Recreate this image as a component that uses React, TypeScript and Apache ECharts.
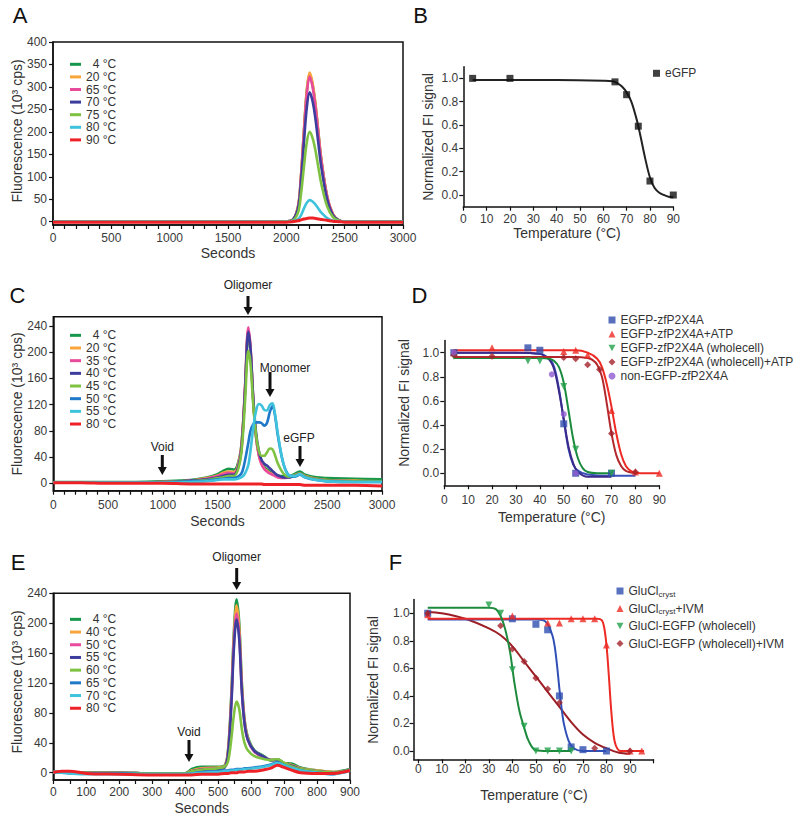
import { useEffect, useRef } from 'react';
import * as echarts from 'echarts';

const FONT = '"Liberation Sans", Arial, Helvetica, sans-serif';
const GREEN = '#16974a', ORANGE = '#f8a53e', PINK = '#e84a9c', INDIGO = '#3d3d9e', LGREEN = '#7fc241', BLUE = '#1f78c8', CYAN = '#3fc3dc', RED = '#ee2226';

// ---------- Panel A (eGFP FSEC) ----------
const A_TEMPS = ['4 °C', '20 °C', '65 °C', '70 °C', '75 °C', '80 °C', '90 °C'];
const A_X = [0, 500, 1000, 1500, 1800, 2000, 2050, 2100, 2125, 2150, 2175, 2200, 2225, 2250, 2275, 2300, 2350, 2400, 2450, 2500, 3000];
const A_4 = [0, 0, 0, 0, 0, 1, 3, 33, 98, 197, 289, 328, 305, 259, 197, 138, 56, 16, 3, 0, 0];
const A_20 = [0, 0, 0, 0, 0, 1, 3, 34, 100, 200, 292, 332, 309, 262, 199, 139, 56, 17, 3, 0, 0];
const A_65 = [0, 0, 0, 0, 0, 1, 3, 32, 97, 193, 283, 323, 300, 255, 194, 136, 55, 16, 3, 0, 0];
const A_70 = [0, 0, 0, 0, 0, 1, 3, 29, 86, 173, 253, 288, 268, 228, 173, 121, 49, 14, 3, 0, 0];
const A_75 = [0, 0, 0, 0, 0, 1, 2, 20, 60, 120, 176, 200, 186, 158, 120, 84, 34, 10, 2, 0, 0];
const A_80 = [0, 0, 0, 0, 0, 0, 1, 5, 14, 29, 42, 48, 45, 38, 29, 20, 8, 2, 1, 0, 0];
const A_90 = [-1, -1, -1, -1, -1, -1, 0, 2, 4, 6, 7, 8, 8, 7, 6, 5, 3, 1, 0, -1, -1];
const A_SERIES = [A_4, A_20, A_65, A_70, A_75, A_80, A_90];
const A_COLORS = [GREEN, ORANGE, PINK, INDIGO, LGREEN, CYAN, RED];

// ---------- Panel B ----------
const B_PTS_X = [4, 20, 65, 70, 75, 80, 90];
const B_PTS_Y = [1.0, 1.0, 0.97, 0.86, 0.59, 0.12, 0.0];
const B_FIT_X = [4, 20, 40, 60, 64, 66, 68, 70, 72, 74, 75, 76, 78, 80, 82, 84, 86, 88, 90];
const B_FIT_Y = [0.985, 0.985, 0.985, 0.98, 0.975, 0.96, 0.93, 0.88, 0.8, 0.67, 0.59, 0.5, 0.31, 0.15, 0.06, 0.02, 0.0, -0.015, -0.02];

// ---------- Panel C (zfP2X4A FSEC) ----------
const C_TEMPS = ['4 °C', '20 °C', '35 °C', '40 °C', '45 °C', '50 °C', '55 °C', '80 °C'];
const C_X = [0, 250, 500, 750, 1000, 1250, 1400, 1500, 1550, 1600, 1650, 1700, 1725, 1750, 1780, 1800, 1825, 1850, 1875, 1900, 1925, 1950, 1975, 2000, 2025, 2050, 2100, 2150, 2200, 2250, 2300, 2400, 2500, 2750, 3000];
const C_4 = [2, 2, 2, 2, 3, 5, 9, 14, 19, 22, 21, 40, 75, 140, 228, 200, 125, 72, 45, 32, 25, 21, 18, 16, 14, 12, 11, 11, 14, 18, 13, 9, 8, 7, 6];
const C_20 = [1, 1, 1, 1, 2, 4, 8, 12, 16, 18, 17, 38, 74, 145, 234, 205, 127, 72, 44, 30, 23, 19, 16, 14, 12, 10, 9, 10, 12, 15, 11, 7, 5, 4, 3];
const C_35 = [1, 1, 1, 1, 2, 4, 7, 11, 14, 16, 15, 36, 72, 148, 238, 208, 128, 72, 43, 29, 22, 18, 15, 13, 11, 9, 8, 9, 11, 14, 10, 6, 4, 3, 3];
const C_40 = [1, 1, 1, 1, 2, 4, 6, 9, 11, 13, 13, 33, 68, 142, 231, 205, 130, 78, 50, 36, 30, 27, 23, 19, 15, 12, 9, 9, 11, 14, 10, 6, 4, 3, 3];
const C_45 = [1, 1, 1, 1, 2, 3, 5, 8, 9, 11, 11, 30, 62, 125, 202, 182, 120, 75, 50, 42, 42, 47, 53, 52, 42, 30, 15, 10, 11, 14, 10, 6, 4, 3, 3];
const C_50 = [1, 1, 1, 1, 1, 3, 4, 6, 7, 8, 8, 12, 18, 35, 62, 80, 90, 93, 93, 92, 88, 92, 108, 118, 102, 72, 30, 12, 10, 13, 9, 5, 3, 2, 2];
const C_55 = [1, 1, 1, 1, 1, 2, 3, 5, 6, 6, 6, 8, 10, 15, 28, 50, 85, 110, 121, 119, 112, 111, 119, 122, 104, 75, 30, 12, 11, 14, 9, 5, 3, 2, 2];
const C_80 = [1, 1, 0, 0, 0, -1, -1, -1, -1, -1, -1, -1, -1, -1, -1, -1, -1, -1, -1, -1, -2, -2, -2, -2, -2, -2, -2, -2, -2, -2, -3, -3, -3, -3, -4];
const C_SERIES = [C_4, C_20, C_35, C_40, C_45, C_50, C_55, C_80];
const C_COLORS = [GREEN, ORANGE, PINK, INDIGO, LGREEN, BLUE, CYAN, RED];

// ---------- Panel D ----------
const D_NAMES = ['EGFP-zfP2X4A', 'EGFP-zfP2X4A+ATP', 'EGFP-zfP2X4A (wholecell)', 'EGFP-zfP2X4A (wholecell)+ATP', 'non-EGFP-zfP2X4A'];
const D_BLUE_X = [4, 35, 40, 50, 55, 70];
const D_BLUE_Y = [1.0, 1.04, 1.02, 0.41, 0.0, 0.0];
const D_RED_X = [4, 20, 50, 55, 60, 70, 80, 90];
const D_RED_Y = [1.0, 1.04, 1.01, 1.02, 0.98, 0.52, 0.01, 0.0];
const D_GREEN_X = [4, 35, 40, 50, 55, 70];
const D_GREEN_Y = [0.97, 0.93, 0.93, 0.72, 0.2, 0.0];
const D_DRED_X = [4, 20, 50, 55, 60, 65, 70, 80];
const D_DRED_Y = [0.98, 0.97, 0.96, 0.95, 0.9, 0.86, 0.33, 0.01];
const D_PURPLE_X = [4, 45, 50, 55];
const D_PURPLE_Y = [1.0, 0.82, 0.49, 0.0];
const D_BLUE_FX = [4, 30, 40, 44, 46, 48, 50, 52, 54, 56, 60, 70, 80];
const D_BLUE_FY = [1.0, 1.0, 0.99, 0.95, 0.88, 0.7, 0.44, 0.2, 0.07, 0.02, -0.01, -0.02, -0.02];
const D_PURPLE_FX = [4, 30, 40, 44, 46, 48, 50, 52, 54, 56, 60, 70];
const D_PURPLE_FY = [1.0, 1.0, 0.99, 0.94, 0.86, 0.68, 0.45, 0.22, 0.08, 0.01, -0.03, -0.03];
const D_GREEN_FX = [4, 40, 44, 46, 48, 50, 52, 54, 56, 58, 60, 64, 70];
const D_GREEN_FY = [0.955, 0.955, 0.95, 0.93, 0.88, 0.75, 0.52, 0.28, 0.12, 0.04, 0.01, 0.0, 0.0];
const D_RED_FX = [4, 55, 60, 64, 66, 68, 70, 72, 74, 76, 78, 80, 85, 90];
const D_RED_FY = [1.02, 1.02, 1.0, 0.95, 0.88, 0.74, 0.55, 0.33, 0.16, 0.06, 0.02, 0.005, 0.0, 0.0];
const D_DRED_FX = [4, 55, 60, 62, 64, 66, 68, 70, 72, 74, 76, 80];
const D_DRED_FY = [0.965, 0.965, 0.955, 0.94, 0.9, 0.8, 0.58, 0.33, 0.15, 0.06, 0.02, 0.0];

// ---------- Panel E (GluCl FSEC) ----------
const E_TEMPS = ['4 °C', '40 °C', '50 °C', '55 °C', '60 °C', '65 °C', '70 °C', '80 °C'];
const E_X = [0, 25, 50, 100, 200, 300, 400, 420, 450, 500, 520, 530, 540, 548, 556, 564, 572, 580, 590, 610, 640, 660, 680, 700, 725, 750, 800, 850, 880, 900];
const E_4 = [1, 1, 0, 0, 0, -1, -1, 5, 8, 8, 10, 30, 105, 190, 232, 200, 120, 72, 48, 30, 22, 16, 18, 13, 12, 7, 3, 1, 3, 5];
const E_40 = [1, 1, 0, 0, 0, -1, -1, 3, 6, 7, 9, 28, 100, 183, 224, 193, 116, 70, 46, 29, 21, 17, 17, 13, 10, 6, 3, 1, 2, 4];
const E_50 = [1, 2, 0, 0, 0, -1, -1, 2, 5, 6, 8, 26, 95, 175, 213, 184, 111, 67, 44, 28, 20, 17, 17, 12, 9, 5, 2, 0, 2, 4];
const E_55 = [1, 1, 0, 0, 0, -1, -1, 2, 4, 5, 7, 24, 90, 168, 205, 178, 108, 66, 44, 29, 21, 17, 17, 12, 9, 5, 2, 0, 2, 4];
const E_60 = [1, 1, 0, 0, 0, -1, -1, 2, 4, 6, 8, 15, 45, 78, 95, 85, 58, 40, 30, 22, 18, 17, 18, 13, 8, 5, 2, 0, 2, 4];
const E_65 = [0, 0, -1, -1, -1, -2, -2, -1, 1, 2, 3, 3, 4, 4, 5, 5, 5, 6, 6, 7, 9, 11, 14, 10, 6, 3, 0, -2, 1, 3];
const E_70 = [0, 0, -1, -2, -2, -2, -2, -1, 0, 1, 2, 2, 3, 3, 4, 4, 4, 5, 5, 6, 8, 10, 13, 10, 6, 3, 0, -2, 0, 3];
const E_80 = [0, 2, 2, -1, -2, -3, -3, -3, -2, -2, -1, -1, 0, 0, 0, 1, 1, 1, 2, 2, 4, 6, 10, 7, 3, 0, -1, -1, 1, 3];
const E_SERIES = [E_4, E_40, E_50, E_55, E_60, E_65, E_70, E_80];
const E_COLORS = [GREEN, ORANGE, PINK, INDIGO, LGREEN, BLUE, CYAN, RED];

// ---------- Panel F ----------
const F_NAMES = ['GluCl_cryst', 'GluCl_cryst+IVM', 'GluCl-EGFP (wholecell)', 'GluCl-EGFP (wholecell)+IVM'];
const F_BLUE_X = [4, 40, 50, 55, 60, 65, 70, 80];
const F_BLUE_Y = [1.0, 0.96, 0.92, 0.88, 0.4, 0.03, 0.01, 0.0];
const F_RED_X = [4, 40, 55, 60, 65, 70, 75, 80, 90, 95];
const F_RED_Y = [0.99, 0.98, 0.93, 0.93, 0.96, 0.96, 0.96, 0.77, 0.0, 0.0];
const F_GREEN_X = [30, 35, 40, 45, 50, 55, 60, 65];
const F_GREEN_Y = [1.06, 1.0, 0.59, 0.18, 0.0, 0.0, 0.0, 0.0];
const F_DRED_X = [4, 35, 40, 45, 50, 55, 60, 75, 90];
const F_DRED_Y = [1.0, 0.91, 0.74, 0.65, 0.53, 0.45, 0.35, 0.02, 0.0];
const F_BLUE_FX = [4, 50, 53, 55, 57, 58, 59, 60, 61, 62, 64, 66, 70, 80];
const F_BLUE_FY = [0.955, 0.955, 0.95, 0.92, 0.84, 0.76, 0.62, 0.45, 0.3, 0.19, 0.07, 0.02, 0.0, 0.0];
const F_RED_FX = [4, 76, 78, 79, 80, 81, 82, 83, 84, 86, 90, 96];
const F_RED_FY = [0.96, 0.96, 0.95, 0.9, 0.77, 0.55, 0.3, 0.12, 0.04, 0.0, 0.0, 0.0];
const F_GREEN_FX = [4, 30, 33, 35, 37, 39, 40, 41, 43, 45, 47, 50, 55, 65];
const F_GREEN_FY = [1.04, 1.04, 1.03, 0.98, 0.88, 0.72, 0.6, 0.48, 0.29, 0.17, 0.07, 0.005, 0.0, 0.0];
const F_DRED_FX = [4, 10, 20, 30, 35, 40, 45, 50, 55, 60, 65, 70, 75, 80, 85, 90];
const F_DRED_FY = [1.01, 1.0, 0.96, 0.89, 0.84, 0.76, 0.65, 0.54, 0.43, 0.32, 0.21, 0.12, 0.06, 0.02, -0.01, -0.02];

// ---------- tick positions ----------
function steps(a: number, b: number, s: number) {
  const r: number[] = [];
  for (let i = 0; a + i * s <= b + 1e-9; i++) r.push(+(a + i * s).toFixed(4));
  return r;
}

const AXIS_COLOR = '#111';
const LABEL_COLOR = '#3a3a3a';
const INV_TRI = 'path://M0,0L10,0L5,9Z';

function axis(gridIndex: number, min: number, max: number, ticks: number[], labels: number[], margin: number, fmt: (v: number) => string) {
  return {
    type: 'value', gridIndex, min, max,
    axisLine: { show: true, onZero: false, lineStyle: { color: AXIS_COLOR, width: 1.5 } },
    axisTick: { show: true, inside: false, length: 4, customValues: ticks, lineStyle: { color: AXIS_COLOR, width: 1.2 } },
    axisLabel: { show: true, customValues: labels, margin, color: LABEL_COLOR, fontSize: 12, fontFamily: FONT, formatter: fmt },
    splitLine: { show: false },
  };
}
const fInt = (v: number) => String(Math.round(v));
const fOne = (v: number) => v.toFixed(1);

function line(name: string, xs: number[], ys: number[], color: string, idx: number, width: number, z = 2) {
  return {
    type: 'line', name, xAxisIndex: idx, yAxisIndex: idx,
    data: xs.map((x, i) => [x, ys[i]]),
    smooth: 0.35, symbol: 'none', showSymbol: false, silent: true, z,
    lineStyle: { color, width }, itemStyle: { color },
  };
}
function scatter(name: string, xs: number[], ys: number[], color: string, idx: number, symbol: string, size: number, rotate = 0) {
  return {
    type: 'scatter', name, xAxisIndex: idx, yAxisIndex: idx,
    data: xs.map((x, i) => [x, ys[i]]),
    symbol, symbolSize: size, symbolRotate: rotate, silent: true, z: 4,
    itemStyle: { color },
  };
}

const txt = (text: string, x: number, y: number, size: number, fill = '#222') => ({
  type: 'text', x, y, silent: true,
  style: { text, fontSize: size, fontFamily: FONT, fill, textAlign: 'center', textVerticalAlign: 'middle' },
});
const vtxt = (text: string, x: number, y: number) => ({
  type: 'text', x, y, rotation: Math.PI / 2, silent: true,
  style: { text, fontSize: 14, fontFamily: FONT, fill: '#333', textAlign: 'center', textVerticalAlign: 'middle' },
});
const arrow = (x: number, y0: number, y1: number) => ([
  { type: 'rect', silent: true, shape: { x: x - 1.5, y: y0, width: 3, height: y1 - y0 - 7 }, style: { fill: '#111' } },
  { type: 'polygon', silent: true, shape: { points: [[x - 4.5, y1 - 8], [x + 4.5, y1 - 8], [x, y1]] }, style: { fill: '#111' } },
]);

const legendFmt = (n: string) => {
  const t = n.split('|')[1] ?? n;
  return /^\d °C$/.test(t) ? '\u2007' + t : t;
};
const legendFmtF = (n: string) => {
  const t = n.split('|')[1] ?? n;
  if (t.includes('_cryst')) {
    const [a, b] = t.split('_cryst');
    return `{m|${a}}{s|cryst}` + (b ? `{m|${b}}` : '');
  }
  return `{m|${t}}`;
};

function buildOption() {
  const series: any[] = [];
  A_SERIES.forEach((ys, i) => series.push(line('A|' + A_TEMPS[i], A_X, ys, A_COLORS[i], 0, i === 6 ? 3 : 2.6, 2 + i * 0.01)));
  series.push(line('Bfit', B_FIT_X, B_FIT_Y, '#222', 1, 2));
  series.push(scatter('B|eGFP', B_PTS_X, B_PTS_Y, '#111', 1, 'rect', 7));
  C_SERIES.forEach((ys, i) => series.push(line('C|' + C_TEMPS[i], C_X, ys, C_COLORS[i], 2, i === 7 ? 3 : 2.6, 2 + i * 0.01)));
  series.push(line('Dfit1', D_BLUE_FX, D_BLUE_FY, '#3a50bd', 3, 2));
  series.push(line('Dfit5', D_PURPLE_FX, D_PURPLE_FY, '#3b2a8a', 3, 2));
  series.push(line('Dfit3', D_GREEN_FX, D_GREEN_FY, '#1a8a3e', 3, 2));
  series.push(line('Dfit4', D_DRED_FX, D_DRED_FY, '#b3282c', 3, 2));
  series.push(line('Dfit2', D_RED_FX, D_RED_FY, '#ee2a24', 3, 2));
  series.push(scatter('D|' + D_NAMES[0], D_BLUE_X, D_BLUE_Y, '#2f4bab', 3, 'rect', 7));
  series.push(scatter('D|' + D_NAMES[1], D_RED_X, D_RED_Y, '#ee2a24', 3, 'triangle', 7));
  series.push(scatter('D|' + D_NAMES[2], D_GREEN_X, D_GREEN_Y, '#22a04a', 3, INV_TRI, 7));
  series.push(scatter('D|' + D_NAMES[3], D_DRED_X, D_DRED_Y, '#a3222a', 3, 'diamond', 7));
  series.push(scatter('D|' + D_NAMES[4], D_PURPLE_X, D_PURPLE_Y, '#8e5bd0', 3, 'circle', 6));
  E_SERIES.forEach((ys, i) => series.push(line('E|' + E_TEMPS[i], E_X, ys, E_COLORS[i], 4, i === 7 ? 3 : 2.6, 2 + i * 0.01)));
  series.push(line('Ffit4', F_DRED_FX, F_DRED_FY, '#9b1f25', 5, 2));
  series.push(line('Ffit1', F_BLUE_FX, F_BLUE_FY, '#3050b8', 5, 2));
  series.push(line('Ffit2', F_RED_FX, F_RED_FY, '#ee2a24', 5, 2));
  series.push(line('Ffit3', F_GREEN_FX, F_GREEN_FY, '#1e8a3e', 5, 2));
  series.push(scatter('F|' + F_NAMES[0], F_BLUE_X, F_BLUE_Y, '#2f4fb0', 5, 'rect', 7));
  series.push(scatter('F|' + F_NAMES[1], F_RED_X, F_RED_Y, '#ee2a24', 5, 'triangle', 7));
  series.push(scatter('F|' + F_NAMES[2], F_GREEN_X, F_GREEN_Y, '#22a04a', 5, INV_TRI, 7));
  series.push(scatter('F|' + F_NAMES[3], F_DRED_X, F_DRED_Y, '#a3222a', 5, 'diamond', 7));

  const legendBase = { orient: 'vertical', padding: 0, itemGap: 0, selectedMode: false };
  const lt = (lh: number) => ({ fontSize: 12, color: '#333', fontFamily: FONT, lineHeight: lh });

  return {
    animation: false,
    backgroundColor: '#ffffff',
    textStyle: { fontFamily: FONT },
    grid: [
      { left: 53, top: 42, width: 350, height: 183, show: true, borderColor: AXIS_COLOR, borderWidth: 1.5, backgroundColor: 'transparent' },
      { left: 463.3, top: 66.7, width: 210, height: 140 },
      { left: 53.3, top: 316.7, width: 328.7, height: 174, show: true, borderColor: AXIS_COLOR, borderWidth: 1.5, backgroundColor: 'transparent' },
      { left: 444.3, top: 340.6, width: 215, height: 144.7 },
      { left: 53.3, top: 593.3, width: 296.7, height: 186.7, show: true, borderColor: AXIS_COLOR, borderWidth: 1.5, backgroundColor: 'transparent' },
      { left: 413.6, top: 599.5, width: 239.9, height: 159.8 },
    ],
    xAxis: [
      axis(0, 0, 3000, steps(0, 3000, 100), steps(0, 3000, 500), 7, fInt),
      axis(1, 0, 90, steps(0, 90, 10), steps(0, 90, 10), 6, fInt),
      axis(2, 0, 3000, steps(0, 3000, 100), steps(0, 3000, 500), 8, fInt),
      axis(3, 0, 90, steps(0, 90, 10), steps(0, 90, 10), 9, fInt),
      axis(4, 0, 900, steps(0, 900, 50), steps(0, 900, 100), 6, fInt),
      axis(5, -2, 100, steps(0, 100, 10), steps(0, 90, 10), 4, fInt),
    ],
    yAxis: [
      axis(0, -7.4, 400, steps(0, 400, 50), steps(0, 400, 50), 6, fInt),
      axis(1, -0.1, 1.1, steps(0, 1, 0.2), steps(0, 1, 0.2), 5, fOne),
      axis(2, -11.3, 254.2, steps(0, 240, 40), steps(0, 240, 40), 6, fInt),
      axis(3, -0.1, 1.1, steps(0, 1, 0.2), steps(0, 1, 0.2), 5, fOne),
      axis(4, -9.8, 240, steps(0, 240, 40), steps(0, 240, 40), 6, fInt),
      axis(5, -0.06, 1.1, steps(0, 1, 0.2), steps(0, 1, 0.2), 4, fOne),
    ],
    legend: [
      { ...legendBase, data: A_TEMPS.map(t => 'A|' + t), left: 70, top: 58, icon: 'rect', itemWidth: 11, itemHeight: 3, formatter: legendFmt, textStyle: lt(12.6) },
      { ...legendBase, data: ['B|eGFP'], left: 653, top: 66.3, itemWidth: 7, itemHeight: 7, formatter: legendFmt, textStyle: lt(14) },
      { ...legendBase, data: C_TEMPS.map(t => 'C|' + t), left: 70, top: 329, icon: 'rect', itemWidth: 11, itemHeight: 3, formatter: legendFmt, textStyle: lt(12.67) },
      { ...legendBase, data: D_NAMES.map(t => 'D|' + t), left: 608.5, top: 313, itemWidth: 7, itemHeight: 7, formatter: legendFmt, textStyle: lt(14) },
      { ...legendBase, data: E_TEMPS.map(t => 'E|' + t), left: 70, top: 613, icon: 'rect', itemWidth: 11, itemHeight: 3, formatter: legendFmt, textStyle: lt(12.7) },
      {
        ...legendBase, data: F_NAMES.map(t => 'F|' + t), left: 616.5, top: 584, itemWidth: 7, itemHeight: 7, itemGap: 3.5, formatter: legendFmtF,
        textStyle: { fontFamily: FONT, color: '#333', fontSize: 12, lineHeight: 14, rich: { m: { fontSize: 12, lineHeight: 14, color: '#333', fontFamily: FONT }, s: { fontSize: 8, lineHeight: 8, verticalAlign: 'bottom', color: '#333', fontFamily: FONT } } },
      },
    ],
    series,
    graphic: [
      txt('A', 20, 15, 22, '#111'), txt('B', 420.5, 15, 22, '#111'), txt('C', 17.5, 295, 22, '#111'),
      txt('D', 419.5, 295.5, 22, '#111'), txt('E', 18, 562, 22, '#111'), txt('F', 395.5, 562, 22, '#111'),
      vtxt('Fluorescence (10³ cps)', 16.5, 131), txt('Seconds', 228, 253, 14, '#333'),
      vtxt('Normalized FI signal', 428, 137), txt('Temperature (°C)', 567, 233, 14, '#333'),
      vtxt('Fluorescence (10³ cps)', 16.5, 404), txt('Seconds', 217.5, 521, 14, '#333'),
      vtxt('Normalized FI signal', 404, 403), txt('Temperature (°C)', 551.7, 516.7, 14, '#333'),
      vtxt('Fluorescence (10³ cps)', 16.5, 682), txt('Seconds', 201.7, 808.3, 14, '#333'),
      vtxt('Normalized FI signal', 372.5, 680), txt('Temperature (°C)', 534, 795, 14, '#333'),
      txt('Oligomer', 248, 285, 12), ...arrow(248, 296, 315),
      txt('Monomer', 285, 368.3, 12), ...arrow(270, 372, 397),
      txt('Void', 162.3, 446.7, 12), ...arrow(162.3, 455, 475),
      txt('eGFP', 299, 438.3, 12), ...arrow(300, 446, 467),
      txt('Oligomer', 236.7, 557, 12), ...arrow(236.7, 568, 590),
      txt('Void', 189, 731.7, 12), ...arrow(189, 740, 762),
    ],
  };
}

export default function App() {
  const ref = useRef<HTMLDivElement>(null);
  useEffect(() => {
    const chart = echarts.init(ref.current!, null, { renderer: 'svg' });
    chart.setOption(buildOption() as any);
    return () => chart.dispose();
  }, []);
  return <div ref={ref} style={{ position: 'absolute', left: 0, top: 0, width: 800, height: 821, background: '#fff' }} />;
}
